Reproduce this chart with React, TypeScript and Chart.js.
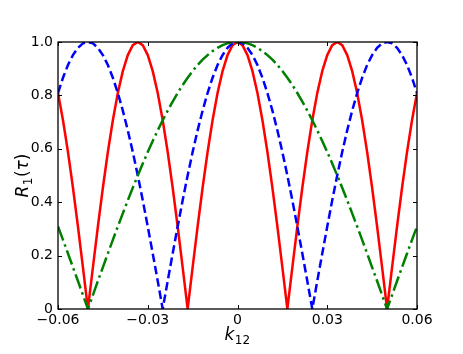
import React, { useEffect, useRef } from "react";
import { Chart, registerables } from "chart.js";

Chart.register(...registerables);

// x positions (k12), step 1/600
const xSteps: number[] = [
  -36, -35, -34, -33, -32, -31, -30, -29, -28, -27, -26, -25, -24, -23, -22, -21, -20, -19, -18, -17, -16, -15, -14, -13, -12, -11, -10, -9, -8, -7, -6, -5, -4, -3, -2, -1,
  0, 1, 2, 3, 4, 5, 6, 7, 8, 9, 10, 11, 12, 13, 14, 15, 16, 17, 18, 19, 20, 21, 22, 23, 24, 25, 26, 27, 28, 29, 30, 31, 32, 33, 34, 35, 36,
];
const kValues: number[] = xSteps.map((s) => s / 600);

const redValues: number[] = [
  0.809, 0.707, 0.588, 0.454, 0.309, 0.156, 0, 0.156, 0.309, 0.454, 0.588, 0.707, 0.809, 0.891, 0.951, 0.988, 1, 0.988, 0.951, 0.891, 0.809, 0.707, 0.588, 0.454, 0.309, 0.156, 0, 0.156, 0.309, 0.454, 0.588, 0.707, 0.809, 0.891, 0.951, 0.988,
  1,
  0.988, 0.951, 0.891, 0.809, 0.707, 0.588, 0.454, 0.309, 0.156, 0, 0.156, 0.309, 0.454, 0.588, 0.707, 0.809, 0.891, 0.951, 0.988, 1, 0.988, 0.951, 0.891, 0.809, 0.707, 0.588, 0.454, 0.309, 0.156, 0, 0.156, 0.309, 0.454, 0.588, 0.707, 0.809,
];

const blueValues: number[] = [
  0.809, 0.866, 0.914, 0.951, 0.978, 0.995, 1, 0.995, 0.978, 0.951, 0.914, 0.866, 0.809, 0.743, 0.669, 0.588, 0.5, 0.407, 0.309, 0.208, 0.105, 0, 0.105, 0.208, 0.309, 0.407, 0.5, 0.588, 0.669, 0.743, 0.809, 0.866, 0.914, 0.951, 0.978, 0.995,
  1,
  0.995, 0.978, 0.951, 0.914, 0.866, 0.809, 0.743, 0.669, 0.588, 0.5, 0.407, 0.309, 0.208, 0.105, 0, 0.105, 0.208, 0.309, 0.407, 0.5, 0.588, 0.669, 0.743, 0.809, 0.866, 0.914, 0.951, 0.978, 0.995, 1, 0.995, 0.978, 0.951, 0.914, 0.866, 0.809,
];

const greenValues: number[] = [
  0.309, 0.259, 0.208, 0.156, 0.105, 0.052, 0, 0.052, 0.105, 0.156, 0.208, 0.259, 0.309, 0.358, 0.407, 0.454, 0.5, 0.545, 0.588, 0.629, 0.669, 0.707, 0.743, 0.777, 0.809, 0.839, 0.866, 0.891, 0.914, 0.934, 0.951, 0.966, 0.978, 0.988, 0.995, 0.999,
  1,
  0.999, 0.995, 0.988, 0.978, 0.966, 0.951, 0.934, 0.914, 0.891, 0.866, 0.839, 0.809, 0.777, 0.743, 0.707, 0.669, 0.629, 0.588, 0.545, 0.5, 0.454, 0.407, 0.358, 0.309, 0.259, 0.208, 0.156, 0.105, 0.052, 0, 0.052, 0.105, 0.156, 0.208, 0.259, 0.309,
];

const xTicks: number[] = [-0.06, -0.03, 0, 0.03, 0.06];
const xTickLabels: string[] = ["\u22120.06", "\u22120.03", "0", "0.03", "0.06"];
const yTicks: number[] = [0, 0.2, 0.4, 0.6, 0.8, 1.0];
const yTickLabels: string[] = ["0", "0.2", "0.4", "0.6", "0.8", "1.0"];

const FONT = "'DejaVu Sans', sans-serif";

const toPoints = (ys: number[]) => ys.map((y, i) => ({ x: kValues[i], y }));

const decorPlugin = {
  id: "decor",
  afterDraw(chart: any) {
    const ctx = chart.ctx as CanvasRenderingContext2D;
    const { left, right, top, bottom } = chart.chartArea;
    const xs = chart.scales.x;
    const ys = chart.scales.y;
    ctx.save();
    // frame
    ctx.strokeStyle = "#000";
    ctx.lineWidth = 1.3;
    ctx.strokeRect(left, top, right - left, bottom - top);
    // inward ticks
    ctx.lineWidth = 1;
    ctx.beginPath();
    xTicks.forEach((t) => {
      const px = Math.round(xs.getPixelForValue(t)) + 0.5;
      ctx.moveTo(px, bottom);
      ctx.lineTo(px, bottom - 4);
      ctx.moveTo(px, top);
      ctx.lineTo(px, top + 4);
    });
    yTicks.forEach((t) => {
      const py = Math.round(ys.getPixelForValue(t)) + 0.5;
      ctx.moveTo(left, py);
      ctx.lineTo(left + 4, py);
      ctx.moveTo(right, py);
      ctx.lineTo(right - 4, py);
    });
    ctx.stroke();
    // tick labels
    ctx.fillStyle = "#000";
    ctx.font = `14px ${FONT}`;
    ctx.textAlign = "center";
    ctx.textBaseline = "top";
    xTicks.forEach((t, i) => {
      ctx.fillText(xTickLabels[i], xs.getPixelForValue(t), bottom + 4);
    });
    ctx.textAlign = "right";
    ctx.textBaseline = "middle";
    yTicks.forEach((t, i) => {
      ctx.fillText(yTickLabels[i], left - 5, ys.getPixelForValue(t));
    });
    const measure = (main: string, sub: string, tail: string, tailItalic: boolean) => {
      const mainFont = `italic 17px ${FONT}`;
      const subFont = `12px ${FONT}`;
      const tailFont = `17px ${FONT}`;
      ctx.font = mainFont;
      const w1 = ctx.measureText(main).width;
      ctx.font = subFont;
      const w2 = ctx.measureText(sub).width;
      let w3 = 0;
      const tailParts: { t: string; f: string }[] = [];
      if (tail) {
        tailParts.push({ t: "(", f: tailFont });
        tailParts.push({ t: tail, f: tailItalic ? mainFont : tailFont });
        tailParts.push({ t: ")", f: tailFont });
        tailParts.forEach((p) => {
          ctx.font = p.f;
          w3 += ctx.measureText(p.t).width;
        });
      }
      const total = w1 + w2 + w3 + 1;
      return { w1, w2, total, mainFont, subFont, tailParts };
    };
    ctx.textBaseline = "alphabetic";
    ctx.textAlign = "left";
    {
      const m = measure("k", "12", "", false);
      const cx = (left + right) / 2;
      let x = cx - m.total / 2;
      const base = 340;
      ctx.font = m.mainFont;
      ctx.fillText("k", x, base);
      x += m.w1 + 0.5;
      ctx.font = m.subFont;
      ctx.fillText("12", x, base + 3.5);
    }
    {
      const m = measure("R", "1", "\u03c4", true);
      ctx.save();
      ctx.translate(28, (top + bottom) / 2);
      ctx.rotate(-Math.PI / 2);
      let x = -m.total / 2;
      const base = 0;
      ctx.font = m.mainFont;
      ctx.fillText("R", x, base);
      x += m.w1 + 0.5;
      ctx.font = m.subFont;
      ctx.fillText("1", x, base + 3.5);
      x += m.w2 + 0.5;
      m.tailParts.forEach((p) => {
        ctx.font = p.f;
        ctx.fillText(p.t, x, base);
        x += ctx.measureText(p.t).width;
      });
      ctx.restore();
    }
    ctx.restore();
  },
};

export default function App() {
  const canvasRef = useRef<HTMLCanvasElement | null>(null);
  useEffect(() => {
    if (!canvasRef.current) return;
    Chart.defaults.font.family = FONT;
    const chart = new Chart(canvasRef.current, {
      type: "line",
      data: {
        datasets: [
          {
            data: toPoints(greenValues),
            borderColor: "#008000",
            borderWidth: 2.5,
            borderDash: [15, 4, 2.5, 4],
            pointRadius: 0,
            tension: 0,
            fill: false,
          },
          {
            data: toPoints(blueValues),
            borderColor: "#0000ff",
            borderWidth: 2.5,
            borderDash: [8.5, 4],
            pointRadius: 0,
            tension: 0,
            fill: false,
          },
          {
            data: toPoints(redValues),
            borderColor: "#ff0000",
            borderWidth: 2.5,
            pointRadius: 0,
            tension: 0,
            fill: false,
          },
        ],
      },
      options: {
        animation: false,
        responsive: false,
        maintainAspectRatio: false,
        events: [],
        layout: { padding: { left: 0, right: 46, top: 42, bottom: 0 } },
        plugins: { legend: { display: false }, tooltip: { enabled: false }, title: { display: false } },
        scales: {
          x: {
            type: "linear",
            min: -0.06,
            max: 0.06,
            grid: { display: false, drawTicks: false },
            border: { display: false },
            ticks: { display: false },
            afterFit: (s: any) => {
              s.height = 45;
            },
          },
          y: {
            type: "linear",
            min: 0,
            max: 1,
            grid: { display: false, drawTicks: false },
            border: { display: false },
            ticks: { display: false },
            afterFit: (s: any) => {
              s.width = 58;
            },
          },
        },
      },
      plugins: [decorPlugin],
    } as any);
    return () => chart.destroy();
  }, []);
  return (
    <div style={{ position: "fixed", left: 0, top: 0, width: 463, height: 354, background: "#fff" }}>
      <canvas ref={canvasRef} width={463} height={354} style={{ width: 463, height: 354, display: "block" }} />
    </div>
  );
}
